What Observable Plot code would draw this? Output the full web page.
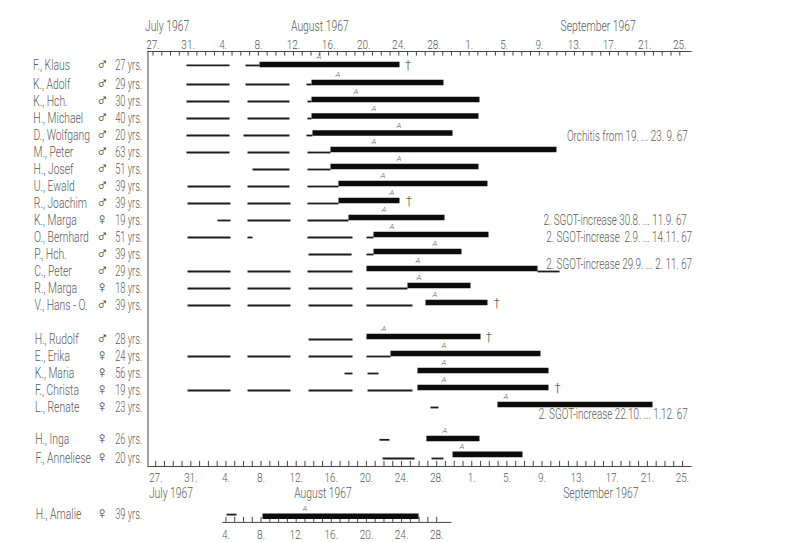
<!DOCTYPE html>
<html>
<head>
<meta charset="utf-8">
<style>html,body{margin:0;padding:0;background:#fff}svg{display:block;max-width:none}</style>
<script src="https://cdn.jsdelivr.net/npm/d3@7"></script>
<script src="https://cdn.jsdelivr.net/npm/@observablehq/plot@0.6"></script>
</head>
<body>
<div id="chart"></div>
<script>
// Days are counted from 27 July 1967 (day 0). Rows are counted from patient "K., Adolf" = 1.
const names = ["F., Klaus","K., Adolf","K., Hch.","H., Michael","D., Wolfgang","M., Peter","H., Josef","U., Ewald","R., Joachim","K., Marga","O., Bernhard","P., Hch.","C., Peter","R., Marga","V., Hans - O.","H., Rudolf","E., Erika","K., Maria","F., Christa","L., Renate","H., Inga","F., Anneliese","H., Amalie"];
const sexes = ["m","m","m","m","m","m","m","m","m","f","m","m","m","f","m","m","f","f","f","f","f","f","f"];
const ages = [27,29,30,40,20,63,51,39,39,19,51,39,29,18,39,28,24,56,19,23,26,20,39];
const rows = [-0.12,1,2,3,4,5,6,7,8,9,10,11,12,13,14,16,17,18,19,20,21.9,23,26.3];
const barRows = [-0.18,0.88,1.88,2.85,3.85,4.82,5.82,6.82,7.82,8.82,9.82,10.82,11.82,12.82,13.82,15.82,16.82,17.82,18.82,19.82,21.82,22.76,26.4];
const barStart = [12.19,18.11,18.11,18.11,18.22,20.27,20.27,21.18,21.18,22.32,25.17,25.17,24.37,29.04,31.09,24.37,27.11,30.18,30.18,39.29,31.2,34.17,12.53];
const barEnd = [28.13,33.14,37.24,37.13,34.17,46.01,37.13,38.15,28.13,33.26,38.27,35.19,43.85,36.22,38.15,37.36,44.19,45.1,45.1,56.95,37.24,42.14,30.3];
const thinSpans = [
  [[3.87,8.77],[10.59,12.19]],
  [[3.87,8.77],[10.59,15.6],[17.54,18.11]],
  [[3.87,8.77],[10.82,15.6],[17.65,18.11]],
  [[3.87,8.77],[10.82,15.6],[17.65,18.11]],
  [[3.87,8.77],[10.36,15.6],[17.54,18.22]],
  [[3.87,8.77],[10.82,15.6],[17.65,20.27]],
  [[11.39,15.6],[17.65,20.27]],
  [[3.99,8.88],[10.82,15.6],[17.65,21.18]],
  [[3.99,8.88],[10.82,15.72],[17.65,21.18]],
  [[7.4,8.88],[10.82,15.72],[17.65,22.32]],
  [[3.99,8.88],[10.82,11.39],[17.65,22.78],[24.37,25.17]],
  [[17.77,22.67],[24.37,25.17]],
  [[3.99,8.88],[10.82,15.72],[17.65,22.78],[43.85,46.36]],
  [[3.99,8.88],[10.82,15.72],[17.77,22.78],[24.37,29.04]],
  [[3.99,8.88],[10.82,15.72],[17.77,22.78],[24.37,29.61]],
  [[17.77,22.78]],
  [[3.99,8.88],[10.82,15.72],[17.77,22.78],[24.37,27.11]],
  [[21.87,22.78],[24.49,25.74]],
  [[3.99,8.88],[10.82,15.72],[17.77,22.78],[24.49,29.61]],
  [[31.66,32.57]],
  [[25.85,26.99]],
  [[26.2,29.84],[31.78,33.14]],
  [[8.43,9.57]]
];
const markerDays = [18.91,21.07,23.12,25.17,28.02,25.17,28.02,26.2,27.22,26.31,27.22,32.12,30.18,30.3,32.12,26.31,33.14,33.14,33.14,40.2,33.26,35.19,17.31];
const deathRows = [-0.18,7.82,13.82,15.82,18.82];
const deathDays = [29.04,29.16,39.15,38.23,46.07];
const notes = ["Orchitis from 19. ... 23. 9. 67","2. SGOT-increase 30.8. ... 11.9. 67","2. SGOT-increase  2.9. ... 14.11. 67","2. SGOT-increase 29.9. ... 2. 11. 67","2. SGOT-increase 22.10. ... 1.12. 67"];
const noteRows = [4.05,9,10,11.6,20.4];
const noteEnds = [60.9,60.8,61.4,61.4,60.9];
const tickDays = d3.range(0,61);
const labelDays = d3.range(0,61,4);
const dayLabels = ["27.","31.","4.","8.","12.","16.","20.","24.","28.","1.","5.","9.","13.","17.","21.","25."];
const months = ["July 1967","August 1967","September 1967"];
const monthTopDays = [1.6,19,50.7];
const monthBottomDays = [2.05,19.36,51];
const lowTickDays = d3.range(8,33);
const lowLabelDays = d3.range(8,33,4);
const lowLabels = ["4.","8.","12.","16.","20.","24.","28."];

const patients = names.map((name,i)=>({name,sex:sexes[i],age:ages[i],row:rows[i],barRow:barRows[i],start:barStart[i],end:barEnd[i],marker:markerDays[i]}));
const thin = thinSpans.flatMap((spans,i)=>spans.map(([a,b])=>({a,b,row:rows[i]})));
const ink = "#1c1c1c", grey = "#5a5a5a", line = "#444";
const font = "Roboto,'Liberation Sans',sans-serif";
const topRow=-0.94, bottomRow=23.47, lowRow=26.76, leftDay=-0.57, rightDay=61.4;

const chart = Plot.plot({
  width:807, height:542,
  marginTop:50, marginBottom:76, marginLeft:0, marginRight:0,
  x:{domain:[0,60],range:[152.5,679.3],axis:null},
  y:{domain:[0,26],range:[67,509],axis:null},
  style:{fontFamily:font,fontSize:"13.5px",fontWeight:300,color:grey,background:"#fff"},
  marks:[
    Plot.axisX({anchor:"top",ticks:labelDays,tickSize:0,tickPadding:2,label:null,
      tickFormat:d=>dayLabels[d/4]}),
    Plot.axisX({anchor:"bottom",ticks:labelDays,tickSize:0,tickPadding:6,dx:2.7,label:null,
      tickFormat:d=>dayLabels[d/4]}),
    Plot.ruleY([topRow],{x1:leftDay,x2:rightDay,stroke:line,strokeWidth:1}),
    Plot.ruleX(tickDays,{x:d=>d,y1:topRow,y2:topRow+0.27,stroke:line,strokeWidth:1}),
    Plot.ruleY([bottomRow],{x1:leftDay,x2:rightDay,stroke:line,strokeWidth:1}),
    Plot.ruleX([leftDay],{y1:topRow,y2:bottomRow,stroke:line,strokeWidth:1}),
    Plot.ruleX(tickDays,{x:d=>d,y1:bottomRow,y2:bottomRow-0.3,dx:2.7,stroke:line,strokeWidth:1}),
    Plot.ruleY([lowRow],{x1:7.97,x2:34.05,stroke:line,strokeWidth:1}),
    Plot.ruleX(lowTickDays,{x:d=>d,y1:lowRow,y2:lowRow-0.3,dx:2.7,stroke:line,strokeWidth:1}),
    Plot.text(lowLabelDays,{x:d=>d,y:lowRow,dy:12,dx:2.7,text:(d,i)=>lowLabels[i],fill:grey}),
    Plot.text(months,{x:(d,i)=>monthTopDays[i],y:-2.4,text:d=>d,fill:grey,fontSize:14}),
    Plot.text(months,{x:(d,i)=>monthBottomDays[i],y:25.06,text:d=>d,fill:grey,fontSize:14}),
    Plot.ruleY(thin,{x1:"a",x2:"b",y:"row",stroke:ink,strokeWidth:1.8}),
    Plot.ruleY(patients,{x1:"start",x2:"end",y:"barRow",stroke:"#0c0c0c",strokeWidth:5.6}),
    Plot.text(patients,{x:"marker",y:"barRow",dy:-8,text:()=>"A",fill:grey,fontSize:8,fontStyle:"italic"}),
    Plot.text(deathDays,{x:d=>d,y:(d,i)=>deathRows[i],text:()=>"†",fill:"#333",fontSize:13,fontFamily:"'DejaVu Sans'"}),
    Plot.text(patients,{x:d=>-13.67+d.row*0.012,y:"row",text:"name",textAnchor:"start",fill:grey,fontSize:14}),
    Plot.text(patients,{x:-5.8,y:"row",dy:-1,text:d=>d.sex==="m"?"♂":"♀",fill:"#333",fontSize:17,fontFamily:"'DejaVu Sans'"}),
    Plot.text(patients,{x:-1.25,y:"row",text:d=>d.age+" yrs.",textAnchor:"end",fill:grey,fontSize:14}),
    Plot.text(notes,{x:(d,i)=>noteEnds[i],y:(d,i)=>noteRows[i],text:d=>d,textAnchor:"end",fill:grey,fontSize:14})
  ]
});
document.getElementById("chart").append(chart);
// The reference lettering is condensed: narrow each real text run to the reference proportions.
d3.select(chart).selectAll("text").each(function(){
  const tspans = this.querySelectorAll("tspan");
  const targets = tspans.length ? tspans : [this];
  targets.forEach(t=>{
    const s = t.textContent;
    if (/^[♂♀†A]$/.test(s)) return;
    const k = /yrs\.$/.test(s) ? 0.66 : /SGOT|Orchitis/.test(s) ? 0.705 : 0.74;
    t.setAttribute("textLength", (t.getComputedTextLength()*k).toFixed(1));
    t.setAttribute("lengthAdjust","spacingAndGlyphs");
  });
});
</script>
</body>
</html>
